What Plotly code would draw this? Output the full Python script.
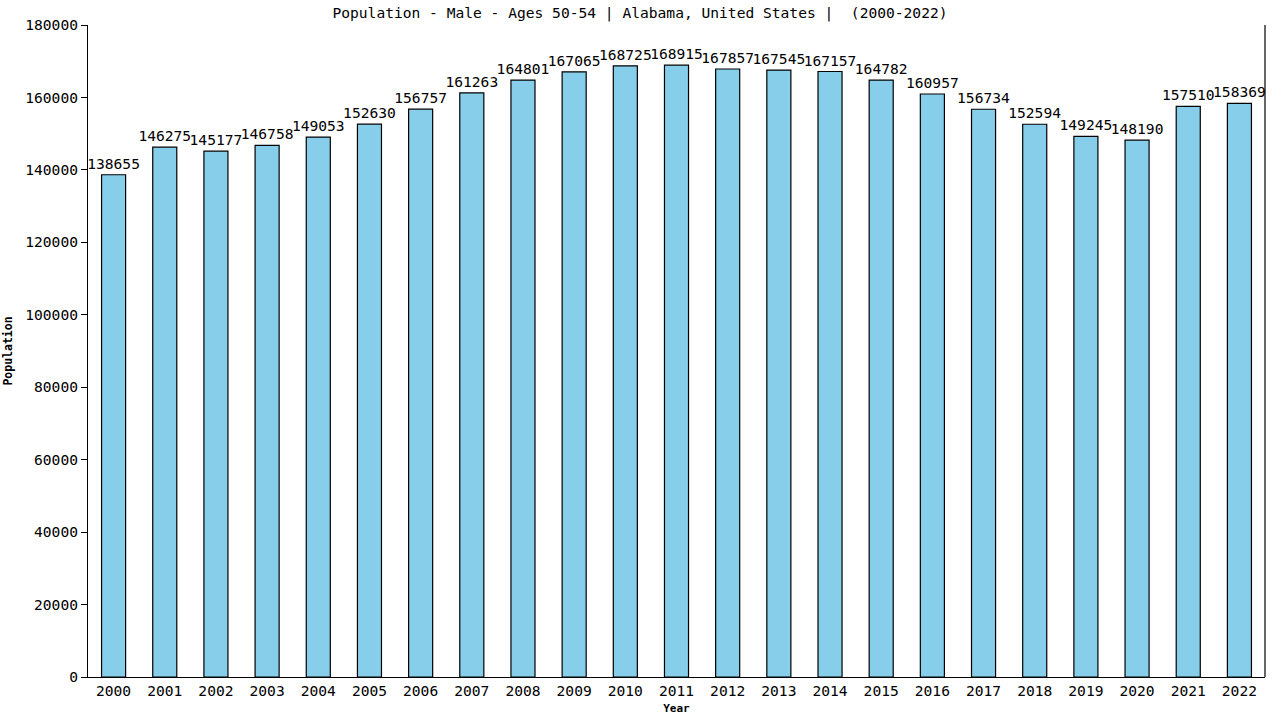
import plotly.graph_objects as go

years = [str(y) for y in range(2000, 2023)]
population = [138655, 146275, 145177, 146758, 149053, 152630, 156757, 161263, 164801,
              167065, 168725, 168915, 167857, 167545, 167157, 164782, 160957, 156734,
              152594, 149245, 148190, 157510, 158369]
y_ticks = [0, 20000, 40000, 60000, 80000, 100000, 120000, 140000, 160000, 180000]

font = "DejaVu Sans Mono"

fig = go.Figure(go.Bar(
    x=years, y=population,
    marker=dict(color="#87CEEB", line=dict(color="black", width=1.2)),
    width=0.47,
    text=[str(v) for v in population],
    textposition="outside",
    constraintext="none",
    cliponaxis=False,
    textfont=dict(family=font, size=14.6, color="black"),
))

fig.update_layout(
    width=1280, height=720,
    margin=dict(l=88, r=15, t=25, b=43, autoexpand=False),
    paper_bgcolor="white", plot_bgcolor="white",
    showlegend=False,
    title=dict(text="Population - Male - Ages 50-54 | Alabama, United States |  (2000-2022)",
               x=0.5, xanchor="center", y=1 - 13 / 720, yanchor="middle",
               font=dict(family=font, size=14.6, color="black")),
    font=dict(family=font, color="black"),
)
fig.update_xaxes(
    type="category", range=[-0.5, 22.5], automargin=False,
    showline=True, linecolor="black", linewidth=1.2, mirror=False,
    ticks="", tickfont=dict(family=font, size=14.6),
    title=dict(text="<b>Year</b>", font=dict(family=font, size=11), standoff=6),
    showgrid=False,
)
fig.update_yaxes(
    range=[0, 180000], tickvals=y_ticks, ticktext=[str(v) for v in y_ticks],
    automargin=False,
    showline=True, linecolor="black", linewidth=1.2,
    ticks="outside", ticklen=6, tickcolor="black",
    tickfont=dict(family=font, size=14.6),
    title=dict(text="<b>Population</b>", font=dict(family=font, size=11.5), standoff=10),
    showgrid=False, zeroline=False,
)
# right border line
fig.add_shape(type="line", xref="paper", yref="paper", x0=1, x1=1, y0=0, y1=1,
              line=dict(color="black", width=1.2))

fig.write_html("out.html", config={"displayModeBar": False},
               post_script="document.body.style.margin='0';document.body.style.overflow='hidden';")
